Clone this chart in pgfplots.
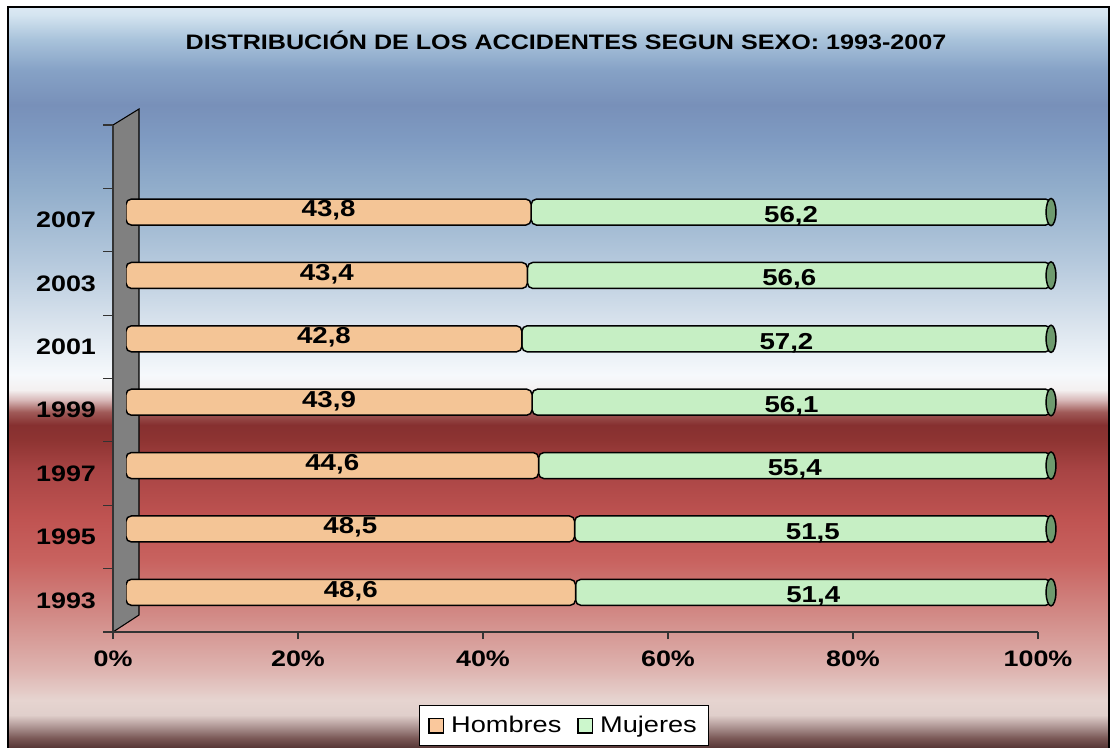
\documentclass[border=0pt]{standalone}
\usepackage{fontspec}
\setmainfont{Liberation Sans}[FakeStretch=1.2]
\usepackage{pgfplots}
\pgfplotsset{compat=1.18}
\usepackage{pgfplotstable}

\definecolor{g748}{HTML}{553535}
\definecolor{g738}{HTML}{7A5856}
\definecolor{g726}{HTML}{B09896}
\definecolor{g715}{HTML}{E0CFCB}
\definecolor{g700}{HTML}{E6D4D0}
\definecolor{g670}{HTML}{DEB4B0}
\definecolor{g620}{HTML}{D38E8A}
\definecolor{g560}{HTML}{C8625F}
\definecolor{g520}{HTML}{C05452}
\definecolor{g470}{HTML}{A84444}
\definecolor{g440}{HTML}{8E3432}
\definecolor{g425}{HTML}{863030}
\definecolor{g412}{HTML}{A05A58}
\definecolor{g400}{HTML}{D8B8B8}
\definecolor{g390}{HTML}{F4F0F0}
\definecolor{g375}{HTML}{F6F9FC}
\definecolor{g330}{HTML}{DDE6EF}
\definecolor{g260}{HTML}{B4C8DC}
\definecolor{g190}{HTML}{92AECB}
\definecolor{g140}{HTML}{7F9BC2}
\definecolor{g105}{HTML}{7890B9}
\definecolor{g70}{HTML}{86A2C6}
\definecolor{g40}{HTML}{A8C2DA}
\definecolor{g15}{HTML}{D4E4F0}
\definecolor{g7}{HTML}{DCE9F4}

\pgfdeclareverticalshading{bgshade}{100bp}{%
color(0bp)=(g748); color(25bp)=(g748); color(25.67bp)=(g738); color(26.48bp)=(g726);
color(27.23bp)=(g715); color(28.24bp)=(g700); color(30.26bp)=(g670); color(33.64bp)=(g620);
color(37.69bp)=(g560); color(40.38bp)=(g520); color(43.76bp)=(g470); color(45.78bp)=(g440);
color(46.80bp)=(g425); color(47.67bp)=(g412); color(48.48bp)=(g400); color(49.16bp)=(g390);
color(50.17bp)=(g375); color(53.21bp)=(g330); color(57.93bp)=(g260); color(62.65bp)=(g190);
color(66.03bp)=(g140); color(68.39bp)=(g105); color(70.75bp)=(g70); color(72.78bp)=(g40);
color(74.46bp)=(g15); color(75bp)=(g7); color(100bp)=(g7)}

\definecolor{hFill}{HTML}{F4C596}
\definecolor{mFill}{HTML}{C6EFC4}
\definecolor{mCap}{HTML}{6E9A6E}
\definecolor{legH}{HTML}{FAC89C}
\definecolor{legM}{HTML}{CCF7CC}
\definecolor{wall}{HTML}{808080}

\pgfplotstableread{
pos h hl m ml
0 48.6 48,6 51.4 51,4
1 48.5 48,5 51.5 51,5
2 44.6 44,6 55.4 55,4
3 43.9 43,9 56.1 56,1
4 42.8 42,8 57.2 57,2
5 43.4 43,4 56.6 56,6
6 43.8 43,8 56.2 56,2
}\datatable

\begin{document}
\begin{tikzpicture}
\begin{scope}[x=0.75pt,y=-0.75pt]
\fill[white] (0,0) rectangle (1114,748);
\shade[shading=bgshade] (8,7) rectangle (1109,748);
\draw[line width=1.5pt,black] (8,748) -- (8,7) -- (1109,7) -- (1109,748);
\node[anchor=base,font=\bfseries\fontsize{15.7}{17}\selectfont] at (566,50) {DISTRIBUCIÓN DE LOS ACCIDENTES SEGUN SEXO: 1993-2007};
\filldraw[fill=wall,draw=black,line width=0.8pt] (113,632) -- (113,125) -- (139,109) -- (139,615) -- cycle;
\end{scope}

% front frame axis
\begin{axis}[
  at={(84.75pt,-474pt)}, anchor=south west,
  scale only axis, width=693.75pt, height=380.25pt,
  xmin=0, xmax=100, ymin=-0.5, ymax=7.5,
  enlargelimits=false,
  axis x line*=bottom, axis y line*=left,
  axis line style={line width=0.8pt, black!80},
  tick align=outside,
  xtick={0,20,40,60,80,100},
  xticklabels={0\%,20\%,40\%,60\%,80\%,100\%},
  ytick={0,1,2,3,4,5,6},
  yticklabels={1993,1995,1997,1999,2001,2003,2007},
  minor ytick={-0.5,0.5,1.5,2.5,3.5,4.5,5.5,6.5,7.5},
  major tick length=5.25pt, minor tick length=7.5pt,
  major y tick style={draw=none},
  every tick/.style={black!80, line width=0.8pt},
  ticklabel style={font=\bfseries\fontsize{16.8}{18}\selectfont, text=black},
  yticklabel style={anchor=east, xshift=-4pt},
  xticklabel style={anchor=north, yshift=-5pt},
]
\end{axis}

% bar axis (shifted for 3D depth)
\begin{axis}[
  at={(94.5pt,-468pt)}, anchor=south west,
  scale only axis, width=693.75pt, height=380.25pt,
  xmin=0, xmax=100, ymin=-0.5, ymax=7.5,
  enlargelimits=false,
  hide axis,
  xbar stacked, bar width=19.5pt,
  legend columns=2,
  legend style={at={(0.4735,-0.2002)}, anchor=center, draw=black, fill=white,
    line width=0.8pt, font=\fontsize{17}{19}\selectfont, inner xsep=7pt, inner ysep=6pt,
    /tikz/every odd column/.append style={column sep=3pt},
    /tikz/every even column/.append style={column sep=10pt}},
]
\addplot[draw=black, line width=1.1pt, fill=hFill,
  rounded corners=4pt,
  nodes near coords, point meta=explicit symbolic,
  every node near coord/.append style={anchor=center, yshift=1pt, text=black,
    font=\bfseries\fontsize{17.3}{19}\selectfont, rounded corners=0pt},
  legend image code/.code={\draw[fill=legH,draw=black,line width=0.8pt,rounded corners=0pt] (0pt,-5.6pt) rectangle (11.2pt,5.6pt);}]
  table[x=h, y=pos, meta=hl] {\datatable};
\addlegendentry{Hombres}
\addplot[draw=black, line width=1.1pt, fill=mFill,
  rounded corners=4pt,
  nodes near coords, point meta=explicit symbolic,
  every node near coord/.append style={anchor=center, yshift=-3pt, text=black,
    font=\bfseries\fontsize{17.3}{19}\selectfont, rounded corners=0pt},
  legend image code/.code={\draw[fill=legM,draw=black,line width=0.8pt,rounded corners=0pt] (0pt,-5.6pt) rectangle (11.2pt,5.6pt);}]
  table[x=m, y=pos, meta=ml] {\datatable};
\addlegendentry{Mujeres}
\end{axis}

% end caps of the cylinders (at the 100 % total)
\begin{axis}[
  at={(94.5pt,-468pt)}, anchor=south west,
  scale only axis, width=693.75pt, height=380.25pt,
  xmin=0, xmax=100, ymin=-0.5, ymax=7.5,
  enlargelimits=false, hide axis, clip=false,
]
\addplot[only marks, mark=*, mark size=10.2pt,
  mark options={xscale=0.36, fill=mCap, draw=black, line width=1.1pt}]
  coordinates {(100,0) (100,1) (100,2) (100,3) (100,4) (100,5) (100,6)};
\end{axis}
\pgfresetboundingbox
\path[use as bounding box] (0pt,0pt) rectangle (835.5pt,-561pt);
\end{tikzpicture}
\end{document}
